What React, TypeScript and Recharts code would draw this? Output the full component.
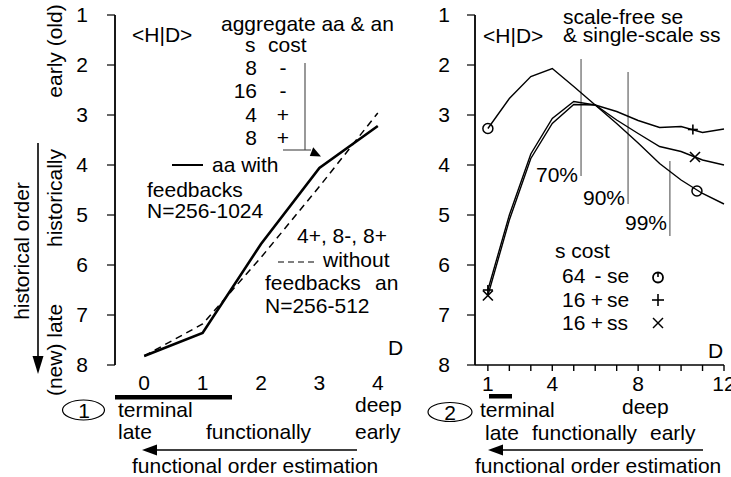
import React from 'react';
import { ComposedChart, Line, XAxis, YAxis, Scatter, ReferenceLine } from 'recharts';

// ---------- data: panel 1 ----------
const leftD = [0, 1, 2, 3, 4];
const aaWithFeedbacks = [7.82, 7.36, 5.58, 4.06, 3.22];
const anWithoutFeedbacks = [7.82, 7.18, 5.85, 4.43, 2.96];
const leftTickMarks = [-0.5, 0.5, 1.5, 2.5, 3.5, 4.5];
const leftTickLabels = [0, 1, 2, 3, 4];
const yTicks = [1, 2, 3, 4, 5, 6, 7, 8];
const aggRows = [
  { s: '8', cost: '-' },
  { s: '16', cost: '-' },
  { s: '4', cost: '+' },
  { s: '8', cost: '+' },
];

// ---------- data: panel 2 ----------
const rightD = [1, 2, 3, 4, 5, 6, 7, 8, 9, 10, 11, 12];
const se64minus = [3.27, 2.67, 2.23, 2.07, 2.43, 2.8, 3.17, 3.56, 3.97, 4.3, 4.57, 4.78];
const se16plus = [6.5, 5.0, 3.78, 3.07, 2.73, 2.8, 2.93, 3.11, 3.25, 3.23, 3.35, 3.28];
const ss16plus = [6.61, 5.1, 3.87, 3.17, 2.79, 2.8, 3.1, 3.37, 3.63, 3.73, 3.9, 4.0];
const rightTickMarks = [1, 2, 3, 4, 5, 6, 7, 8, 9, 10, 11, 12];
const rightTickLabels = [1, 4, 8, 12];
const markerCircle = [{ d: 1, v: 3.27 }, { d: 10.74, v: 4.52 }];
const markerPlus = [{ d: 1, v: 6.5 }, { d: 10.55, v: 3.29 }];
const markerCross = [{ d: 1, v: 6.61 }, { d: 10.65, v: 3.84 }];
const thresholds = [
  { label: '70%', x: 5.34, y1: 1.88, y2: 4.22 },
  { label: '90%', x: 7.53, y1: 2.14, y2: 4.78 },
  { label: '99%', x: 9.48, y1: 3.92, y2: 5.42 },
];

const leftData = leftD.map((d, i) => ({ d, aa: aaWithFeedbacks[i], an: anWithoutFeedbacks[i] }));
const rightData = rightD.map((d, i) => ({ d, c: se64minus[i], p: se16plus[i], s: ss16plus[i] }));

const FONT = '"Liberation Sans", Arial, Helvetica, sans-serif';
const FS = 21;
const tickStyle = { fontSize: FS, fill: '#000', fontFamily: FONT };

const CircleShape = (props: any) => (
  <circle cx={props.cx} cy={props.cy} r={5} fill="none" stroke="#000" strokeWidth={1.5} />
);
const PlusShape = (props: any) => (
  <g stroke="#000" strokeWidth={1.6}>
    <line x1={props.cx - 5} y1={props.cy} x2={props.cx + 5} y2={props.cy} />
    <line x1={props.cx} y1={props.cy - 5} x2={props.cx} y2={props.cy + 5} />
  </g>
);
const CrossShape = (props: any) => (
  <g stroke="#000" strokeWidth={1.6}>
    <line x1={props.cx - 5} y1={props.cy - 5} x2={props.cx + 5} y2={props.cy + 5} />
    <line x1={props.cx - 5} y1={props.cy + 5} x2={props.cx + 5} y2={props.cy - 5} />
  </g>
);

const RightTick = (props: any) => {
  const { x, y, payload } = props;
  if (!rightTickLabels.includes(payload.value)) return <g />;
  return (
    <text x={x} y={y} dy="0.71em" textAnchor="middle" fontSize={FS} fill="#000" fontFamily={FONT}>
      {payload.value}
    </text>
  );
};

const T = (p: any) => (
  <text fontSize={FS} fill="#000" fontFamily={FONT} {...p}>
    {p.children}
  </text>
);

export default function App() {
  return (
    <div style={{ position: 'absolute', left: 0, top: 0, width: 731, height: 477, background: '#fff', overflow: 'hidden' }}>
      <div style={{ position: 'absolute', left: 0, top: 0 }}>
        <ComposedChart width={420} height={477} data={leftData} margin={{ top: 15, right: 13, bottom: 82, left: 0 }}>
          <XAxis
            xAxisId="marks"
            type="number"
            dataKey="d"
            domain={[-0.5, 4.5]}
            ticks={leftTickMarks}
            interval={0}
            tick={false}
            tickSize={5}
            height={0}
            axisLine={{ stroke: '#000', strokeWidth: 1.6 }}
            tickLine={{ stroke: '#000', strokeWidth: 1.4 }}
          />
          <XAxis
            xAxisId="labels"
            type="number"
            dataKey="d"
            domain={[-0.5, 4.5]}
            ticks={leftTickLabels}
            interval={0}
            axisLine={false}
            tickLine={false}
            tickSize={5}
            tickMargin={5}
            height={30}
            tick={tickStyle}
          />
          <YAxis
            type="number"
            reversed
            domain={[1, 8]}
            ticks={yTicks}
            interval={0}
            width={115}
            tickSize={8}
            tickMargin={19}
            tick={tickStyle}
            axisLine={{ stroke: '#000', strokeWidth: 1.8 }}
            tickLine={{ stroke: '#000', strokeWidth: 1.2 }}
          />
          <Line xAxisId="marks" type="linear" dataKey="an" stroke="#000" strokeWidth={1.5} strokeDasharray="7 5" dot={false} isAnimationActive={false} />
          <Line xAxisId="marks" type="linear" dataKey="aa" stroke="#000" strokeWidth={2.6} dot={false} isAnimationActive={false} />
        </ComposedChart>
      </div>
      <div style={{ position: 'absolute', left: 420, top: 0 }}>
        <ComposedChart width={311} height={477} data={rightData} margin={{ top: 15, right: 7, bottom: 82, left: 0 }}>
          <XAxis
            type="number"
            dataKey="d"
            domain={[0.4, 12]}
            ticks={rightTickMarks}
            interval={0}
            tickSize={6}
            tickMargin={5}
            height={30}
            tick={<RightTick />}
            axisLine={{ stroke: '#000', strokeWidth: 1.6 }}
            tickLine={{ stroke: '#000', strokeWidth: 1.4 }}
          />
          <YAxis
            type="number"
            reversed
            domain={[1, 8]}
            ticks={yTicks}
            interval={0}
            width={55}
            tickSize={8}
            tickMargin={17}
            tick={tickStyle}
            axisLine={{ stroke: '#000', strokeWidth: 1.8 }}
            tickLine={{ stroke: '#000', strokeWidth: 1.2 }}
          />
          {thresholds.map((t) => (
            <ReferenceLine
              key={t.label}
              segment={[{ x: t.x, y: t.y1 }, { x: t.x, y: t.y2 }]}
              stroke="#444"
              strokeWidth={1}
              ifOverflow="visible"
            />
          ))}
          <Line type="linear" dataKey="c" stroke="#000" strokeWidth={1.4} dot={false} isAnimationActive={false} />
          <Line type="linear" dataKey="p" stroke="#000" strokeWidth={1.4} dot={false} isAnimationActive={false} />
          <Line type="linear" dataKey="s" stroke="#000" strokeWidth={1.4} dot={false} isAnimationActive={false} />
          <Scatter data={markerCircle} dataKey="v" shape={CircleShape} isAnimationActive={false} />
          <Scatter data={markerPlus} dataKey="v" shape={PlusShape} isAnimationActive={false} />
          <Scatter data={markerCross} dataKey="v" shape={CrossShape} isAnimationActive={false} />
        </ComposedChart>
      </div>
      <svg width={731} height={477} style={{ position: 'absolute', left: 0, top: 0, pointerEvents: 'none' }}>
        {/* ---- panel 1 annotations ---- */}
        <T x={62} y={51} textAnchor="middle" transform="rotate(-90 62 51)">early (old)</T>
        <T x={62} y={198} textAnchor="middle" transform="rotate(-90 62 198)">historically</T>
        <T x={62} y={350} textAnchor="middle" transform="rotate(-90 62 350)">(new) late</T>
        <T x={29} y={251} textAnchor="middle" transform="rotate(-90 29 251)">historical order</T>
        <line x1={38} y1={143} x2={38} y2={360} stroke="#000" strokeWidth={1.6} />
        <polygon points="32.5,356 43.5,356 38,374" fill="#000" />

        <T x={132} y={42}>{'<H|D>'}</T>
        <T x={221} y={31}>aggregate aa &amp; an</T>
        <T x={245} y={52}>s</T>
        <T x={268} y={52}>cost</T>
        {aggRows.map((r, i) => (
          <g key={i}>
            <T x={257} y={75 + i * 23.4} textAnchor="end">{r.s}</T>
            <T x={283} y={75 + i * 23.4} textAnchor="middle">{r.cost}</T>
          </g>
        ))}
        <line x1={305} y1={63} x2={305} y2={150} stroke="#444" strokeWidth={1.1} />
        <line x1={283} y1={150} x2={311} y2={150} stroke="#444" strokeWidth={1.1} />
        <polygon points="321,156.5 309.8,156 313.2,147.2" fill="#000" />

        <line x1={172} y1={165} x2={203} y2={165} stroke="#000" strokeWidth={2} />
        <T x={212} y={172}>aa with</T>
        <T x={147} y={197}>feedbacks</T>
        <T x={147} y={218}>N=256-1024</T>
        <T x={297} y={243}>4+, 8-, 8+</T>
        <line x1={278} y1={262} x2={316} y2={262} stroke="#000" strokeWidth={1.2} strokeDasharray="6 4" />
        <T x={323} y={267}>without</T>
        <T x={265} y={290}>feedbacks</T>
        <T x={375} y={290}>an</T>
        <T x={265} y={313}>N=256-512</T>
        <T x={388} y={355}>D</T>

        <rect x={115} y={395} width={117} height={4.5} fill="#000" />
        <ellipse cx={83.5} cy={410} rx={21} ry={10} fill="none" stroke="#000" strokeWidth={1.2} />
        <T x={84} y={417.5} textAnchor="middle">1</T>
        <T x={118} y={417}>terminal</T>
        <T x={118} y={439}>late</T>
        <T x={206} y={439}>functionally</T>
        <T x={355} y={412}>deep</T>
        <T x={355} y={439}>early</T>
        <line x1={154} y1={450} x2={357} y2={450} stroke="#000" strokeWidth={1.6} />
        <polygon points="142,450 157,444.5 157,455.5" fill="#000" />
        <T x={132} y={473}>functional order estimation</T>

        {/* ---- panel 2 annotations ---- */}
        <T x={483} y={43}>{'<H|D>'}</T>
        <T x={563} y={24}>scale-free se</T>
        <T x={563} y={42}>&amp; single-scale ss</T>
        <T x={578} y={182} textAnchor="end">{thresholds[0].label}</T>
        <T x={625} y={205} textAnchor="end">{thresholds[1].label}</T>
        <T x={667} y={230} textAnchor="end">{thresholds[2].label}</T>

        <T x={555} y={258}>s cost</T>
        <T x={562} y={283}>64</T>
        <T x={598} y={283} textAnchor="middle">-</T>
        <T x={607} y={283}>se</T>
        <T x={562} y={307}>16</T>
        <T x={597} y={307} textAnchor="middle">+</T>
        <T x={607} y={307}>se</T>
        <T x={562} y={330}>16</T>
        <T x={597} y={330} textAnchor="middle">+</T>
        <T x={607} y={330}>ss</T>
        <circle cx={658} cy={277.5} r={5} fill="none" stroke="#000" strokeWidth={1.8} />
        <line x1={658} y1={272} x2={658} y2={277} stroke="#000" strokeWidth={1.6} />
        <line x1={652} y1={300} x2={664} y2={300} stroke="#000" strokeWidth={1.6} />
        <line x1={658} y1={294} x2={658} y2={306} stroke="#000" strokeWidth={1.6} />
        <line x1={653} y1={318} x2={663} y2={328} stroke="#000" strokeWidth={1.4} />
        <line x1={653} y1={328} x2={663} y2={318} stroke="#000" strokeWidth={1.4} />
        <T x={708} y={358}>D</T>

        <rect x={489} y={394} width={23} height={4.5} fill="#000" />
        <ellipse cx={450} cy={412} rx={22} ry={9.5} fill="none" stroke="#000" strokeWidth={1.2} />
        <T x={450} y={419.5} textAnchor="middle">2</T>
        <T x={480} y={417}>terminal</T>
        <T x={622} y={414}>deep</T>
        <T x={485} y={440}>late</T>
        <T x={532} y={440}>functionally</T>
        <T x={650} y={440}>early</T>
        <line x1={500} y1={450} x2={703} y2={450} stroke="#000" strokeWidth={1.6} />
        <polygon points="488,450 503,444.5 503,455.5" fill="#000" />
        <T x={475} y={473}>functional order estimation</T>
      </svg>
    </div>
  );
}
